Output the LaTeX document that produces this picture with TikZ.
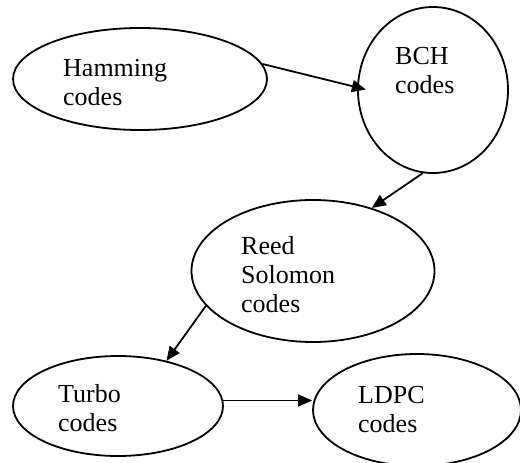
\documentclass[tikz,border=0pt]{standalone}
\usepackage{fontspec}
\setmainfont{Liberation Serif}
\usetikzlibrary{shapes.geometric,arrows.meta}

\tikzset{
  code/.style={draw, ellipse, line width=1.8pt, inner sep=0pt},
  codetext/.style={inner sep=0pt, anchor=base west, align=left,
    font=\fontsize{26}{29}\selectfont},
  link/.style={line width=1.8pt, -{Triangle[length=14pt,width=12pt]}}
}

\begin{document}
\begin{tikzpicture}[x=1pt, y=-1pt]
        \useasboundingbox (0,0) rectangle (520,463);

        % Top row
        \node[code, minimum width=254pt, minimum height=102pt] (hamming) at (140,79) {};
        \node[codetext] (hammingtext) at (63,105) {Hamming\\codes};
        \node[code, minimum width=150pt, minimum height=166pt] (bch) at (433,90) {};
        \node[codetext] (bchtext) at (395,93) {BCH\\codes};
        \draw[link, shorten >=-9pt] (hamming.7) -- (bch.178);

        % Middle
        \node[code, minimum width=243pt, minimum height=142pt] (rs) at (313,271) {};
        \node[codetext] (rstext) at (241,312) {Reed\\Solomon\\codes};
        \draw[link] (bch.263) -- (rs.47);

        % Bottom row
        \node[code, minimum width=210pt, minimum height=100pt] (turbo) at (118,406) {};
        \node[codetext] (turbotext) at (58,431) {Turbo\\codes};
        \node[code, minimum width=208pt, minimum height=112pt] (ldpc) at (417,410) {};
        \node[codetext] (ldpctext) at (358,432) {LDPC\\codes};
        \draw[link] (rs.198) -- (turbo.43);
        \draw[link] (turbo.3) -- (turbo.3 -| ldpc.west);
\end{tikzpicture}
\end{document}
